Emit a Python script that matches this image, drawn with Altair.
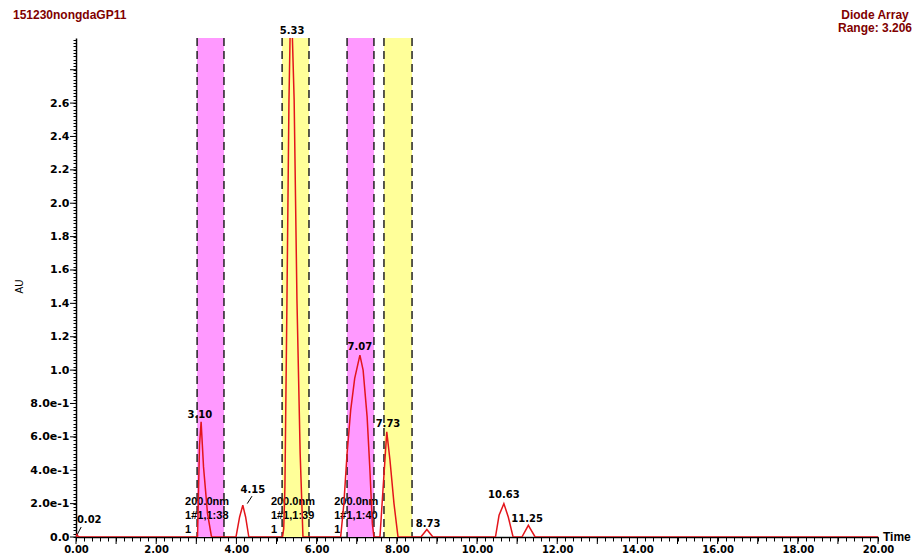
import altair as alt
import pandas as pd
import numpy as np

W, H = 802, 499

# chromatogram trace (time in min, absorbance in AU)
TIME = [0.00, 0.01, 0.02, 0.04, 0.08,
        2.98, 3.03, 3.08, 3.12, 3.18, 3.28, 3.38,
        3.99, 4.08, 4.16, 4.23, 4.31,
        5.15, 5.18, 5.21, 5.26, 5.31, 5.36, 5.44, 5.51, 5.59, 5.66,
        6.60, 6.68, 6.76, 6.85, 6.95, 7.08, 7.16, 7.26, 7.33, 7.39, 7.43,
        7.58, 7.66, 7.75, 7.83, 7.93, 8.03,
        8.60, 8.75, 8.90,
        10.46, 10.55, 10.67, 10.78, 10.90,
        11.12, 11.28, 11.45,
        20.00]
AU = [0.000, 0.012, 0.015, 0.006, 0.000,
      0.000, 0.000, 0.55, 0.69, 0.42, 0.14, 0.000,
      0.000, 0.12, 0.19, 0.12, 0.000,
      0.000, 0.05, 0.30, 1.40, 2.60, 3.30, 2.62, 1.42, 0.50, 0.000,
      0.000, 0.20, 0.50, 0.76, 0.95, 1.09, 1.00, 0.72, 0.40, 0.08, 0.000,
      0.000, 0.30, 0.63, 0.46, 0.20, 0.000,
      0.000, 0.045, 0.000,
      0.000, 0.13, 0.20, 0.12, 0.000,
      0.000, 0.07, 0.000,
      0.000]

# peak labels
PEAK_T = [0.33, 3.09, 4.41, 5.39, 7.08, 7.78, 8.78, 10.67, 11.25]
PEAK_Y = [0.10, 0.73, 0.28, 3.03, 1.14, 0.68, 0.08, 0.25, 0.11]
PEAK_LBL = ["0.02", "3.10", "4.15", "5.33", "7.07", "7.73", "8.73", "10.63", "11.25"]

# leader lines
LEAD_X = [0.02, 4.27]
LEAD_X2 = [0.13, 4.39]
LEAD_Y = [0.01, 0.20]
LEAD_Y2 = [0.06, 0.245]

# highlighted bands
BAND_START = [3.02, 5.14, 6.76, 7.68]
BAND_END = [3.69, 5.81, 7.43, 8.38]
BAND_FILL = ["#ff99ff", "#ffff99", "#ff99ff", "#ffff99"]

# annotation blocks
ANN_X = [2.72, 2.72, 2.72, 4.86, 4.86, 4.86, 6.44, 6.44, 6.44]
ANN_Y = [0.21, 0.126, 0.042] * 3
ANN_TXT = ["200.0nm", "1#1,1:38", "1",
           "200.0nm", "1#1,1:39", "1",
           "200.0nm", "1#1,1:40", "1"]

X_TICKS = [float(v) for v in np.round(np.arange(0, 20.001, 0.2), 2)]
X_MAJOR = [float(v) for v in range(0, 21)]
Y_TICKS = [float(v) for v in np.round(np.arange(0, 2.99, 0.02), 2)]
Y_MAJOR = [float(v) for v in np.round(np.arange(0, 2.99, 0.2), 2)]

xs = alt.Scale(domain=[0, 20], nice=False, zero=False)
ys = alt.Scale(domain=[0, 2.99], nice=False)

trace = pd.DataFrame({"t": TIME, "au": AU})
bands = pd.DataFrame({"s": BAND_START, "e": BAND_END, "fill": BAND_FILL})
edges = pd.DataFrame({"edge": BAND_START + BAND_END})
peaks = pd.DataFrame({"t": PEAK_T, "y": PEAK_Y, "lbl": PEAK_LBL})
leads = pd.DataFrame({"x": LEAD_X, "x2": LEAD_X2, "y": LEAD_Y, "y2": LEAD_Y2})
ann = pd.DataFrame({"x": ANN_X, "y": ANN_Y, "txt": ANN_TXT})
xmaj = pd.DataFrame({"v": X_MAJOR})
ymaj = pd.DataFrame({"v": Y_MAJOR})

x_axis = alt.Axis(values=X_TICKS, title=None, grid=False, tickSize=4, tickColor="black",
                  domainColor="black", domainWidth=1.5, labelPadding=3,
                  labelFont="DejaVu Sans", labelFontWeight="bold", labelFontSize=10,
                  labelColor="black", labelAngle=0, labelFlush=False, labelOverlap=False,
                  labelExpr="abs(datum.value/2 - round(datum.value/2)) < 0.001 ? format(datum.value, '.2f') : ''")
y_axis = alt.Axis(values=Y_TICKS, title="AU", grid=False, tickSize=3, tickColor="black",
                  domainColor="black", domainWidth=1.5, labelPadding=4,
                  labelFont="DejaVu Sans", labelFontWeight="bold", labelFontSize=11,
                  labelColor="black", labelOverlap=False, labelFlush=False,
                  titleFont="Liberation Sans", titleFontWeight="normal", titleFontSize=10,
                  titleColor="black", titleX=-52, titleY=248,
                  labelExpr="abs(datum.value*5 - round(datum.value*5)) < 0.001 && datum.value < 2.7 ? (datum.value == 0 ? '0.0' : (datum.value < 0.99 ? format(datum.value*10, '.1f') + 'e-1' : format(datum.value, '.1f'))) : ''")


def X(f):
    return alt.X(f, scale=xs, axis=x_axis)


def Y(f):
    return alt.Y(f, scale=ys, axis=y_axis)


band_layer = alt.Chart(bands).mark_rect().encode(
    x=X("s:Q"), x2="e:Q",
    y=alt.value(0), y2=alt.value(H),
    color=alt.Color("fill:N", scale=None),
)

edge_layer = alt.Chart(edges).mark_rule(color="#222222", strokeWidth=1.5, strokeDash=[8, 5]).encode(
    x=X("edge:Q"), y=alt.value(0), y2=alt.value(H),
)

font_txt = "Liberation Sans Narrow, Liberation Sans"
ann_layer = alt.Chart(ann).mark_text(align="left", baseline="middle", font=font_txt,
                                     fontWeight="bold", fontSize=11, color="black").encode(
    x=X("x:Q"), y=Y("y:Q"), text="txt:N",
)

peak_layer = alt.Chart(peaks).mark_text(align="center", baseline="middle", font="DejaVu Sans",
                                        fontWeight="bold", fontSize=10, color="black",
                                        clip=False).encode(
    x=X("t:Q"), y=Y("y:Q"), text="lbl:N",
)

lead_layer = alt.Chart(leads).mark_rule(color="black", strokeWidth=1).encode(
    x=X("x:Q"), x2="x2:Q", y=Y("y:Q"), y2="y2:Q",
)

trace_layer = alt.Chart(trace).mark_line(color="#e3151b", strokeWidth=1.5, clip=True).encode(
    x=X("t:Q"), y=Y("au:Q"),
)

xmaj_layer = alt.Chart(xmaj).mark_rule(color="black", strokeWidth=1).encode(
    x=X("v:Q"), y=alt.value(H), y2=alt.value(H + 7),
)
ymaj_layer = alt.Chart(ymaj).mark_rule(color="black", strokeWidth=1).encode(
    y=Y("v:Q"), x=alt.value(-6), x2=alt.value(0),
)

title_df = pd.DataFrame({"txt": ["151230nongdaGP11"]})
title_layer = alt.Chart(title_df).mark_text(align="left", baseline="middle", font="Liberation Sans",
                                            fontWeight="bold", fontSize=12, color="#800000").encode(
    x=alt.value(-63), y=alt.value(-23), text="txt:N")

right_df = pd.DataFrame({"txt": ["Diode Array", "Range: 3.206"], "yy": [-23, -10]})
right_layer = alt.Chart(right_df).mark_text(align="center", baseline="middle", font="Liberation Sans",
                                            fontWeight="bold", fontSize=12, color="#800000").encode(
    x=alt.value(799), y=alt.Y("yy:Q", scale=None), text="txt:N")

time_df = pd.DataFrame({"txt": ["Time"]})
time_layer = alt.Chart(time_df).mark_text(align="left", baseline="middle", font="Liberation Sans",
                                          fontWeight="bold", fontSize=12, color="black").encode(
    x=alt.value(807), y=alt.value(H), text="txt:N")

chart = alt.layer(
    band_layer, ann_layer, peak_layer, lead_layer, edge_layer, trace_layer,
    xmaj_layer, ymaj_layer, title_layer, right_layer, time_layer,
).properties(
    width=W, height=H,
    autosize=alt.AutoSizeParams(type="none"),
    padding={"left": 68, "top": 30, "right": 34, "bottom": 20},
    background="white",
).configure_view(strokeWidth=0)

chart.save("out.html", embed_options={"renderer": "svg", "actions": False})
